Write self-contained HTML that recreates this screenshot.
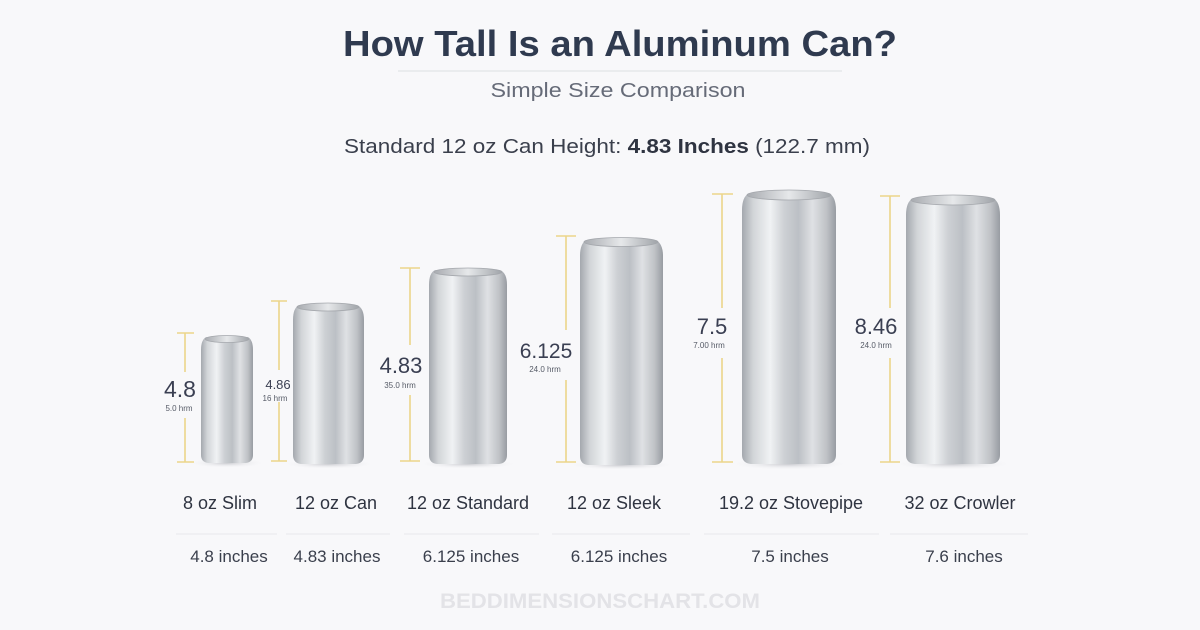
<!DOCTYPE html>
<html><head><meta charset="utf-8"><style>
html,body{margin:0;padding:0;background:#f8f8fa;}
svg{display:block;font-family:"Liberation Sans",sans-serif;}
</style></head><body>
<svg width="1200" height="630" viewBox="0 0 1200 630" xmlns="http://www.w3.org/2000/svg">
<defs>
<linearGradient id="body" x1="0" x2="1" y1="0" y2="0">
<stop offset="0" stop-color="#a4a8ae"/>
<stop offset="0.12" stop-color="#d2d5d8"/>
<stop offset="0.3" stop-color="#f0f2f4"/>
<stop offset="0.45" stop-color="#cdd0d4"/>
<stop offset="0.6" stop-color="#bcc0c5"/>
<stop offset="0.75" stop-color="#dfe1e4"/>
<stop offset="0.9" stop-color="#bfc2c6"/>
<stop offset="1" stop-color="#989ca2"/>
</linearGradient>
<linearGradient id="top" x1="0" x2="1">
<stop offset="0" stop-color="#a8abb0"/><stop offset="0.5" stop-color="#e6e8ea"/><stop offset="1" stop-color="#a0a4a9"/>
</linearGradient>
<radialGradient id="shadow" cx="0.5" cy="0.5" r="0.5"><stop offset="0" stop-color="#c9cacf"/><stop offset="1" stop-color="#f8f8fa" stop-opacity="0"/></radialGradient>
</defs>
<rect width="1200" height="630" fill="#f8f8fa"/>

<text x="620" y="56" text-anchor="middle" font-size="36" font-weight="bold" fill="#2f3a4f" textLength="554" lengthAdjust="spacingAndGlyphs">How Tall Is an Aluminum Can?</text>
<line x1="398" y1="71" x2="842" y2="71" stroke="#e6e7ea" stroke-width="1.5"/>
<text x="618" y="97" text-anchor="middle" font-size="20" fill="#666b78" textLength="255" lengthAdjust="spacingAndGlyphs">Simple Size Comparison</text>
<text x="344" y="153" font-size="20" fill="#3a3f4c" textLength="526" lengthAdjust="spacingAndGlyphs">Standard 12 oz Can Height: <tspan font-weight="bold" fill="#2f3441">4.83 Inches</tspan> (122.7 mm)</text>

<g id="cans">
<ellipse cx="227" cy="463" rx="38" ry="5" fill="url(#shadow)"/>
<path d="M201 350 Q201 340 206 337 L248 337 Q253 340 253 350 L253 455 Q253 462 246 463 L208 463 Q201 462 201 455Z" fill="url(#body)"/>
<ellipse cx="227" cy="339" rx="22" ry="3.5" fill="url(#top)" stroke="#a4a7ac" stroke-width="0.8"/>
<ellipse cx="329" cy="464" rx="46" ry="5" fill="url(#shadow)"/>
<path d="M293 320 Q293 308 299 305 L357 305 Q364 308 364 320 L364 455 Q364 463 356 464 L301 464 Q293 463 293 455Z" fill="url(#body)"/>
<ellipse cx="328" cy="307" rx="31" ry="4" fill="url(#top)" stroke="#a4a7ac" stroke-width="0.8"/>
<ellipse cx="468" cy="464" rx="50" ry="5" fill="url(#shadow)"/>
<path d="M429 285 Q429 273 435 270 L500 270 Q507 273 507 285 L507 455 Q507 463 499 464 L437 464 Q429 463 429 455Z" fill="url(#body)"/>
<ellipse cx="468" cy="272" rx="34" ry="4" fill="url(#top)" stroke="#a4a7ac" stroke-width="0.8"/>
<ellipse cx="621" cy="465" rx="54" ry="5" fill="url(#shadow)"/>
<path d="M580 256 Q580 244 586 240 L656 240 Q663 244 663 256 L663 456 Q663 464 655 465 L588 465 Q580 464 580 456Z" fill="url(#body)"/>
<ellipse cx="621" cy="242" rx="37" ry="4.5" fill="url(#top)" stroke="#a4a7ac" stroke-width="0.8"/>
<ellipse cx="789" cy="464" rx="60" ry="6" fill="url(#shadow)"/>
<path d="M742 210 Q742 197 749 193 L829 193 Q836 197 836 210 L836 455 Q836 463 827 464 L751 464 Q742 463 742 455Z" fill="url(#body)"/>
<ellipse cx="789" cy="195" rx="42" ry="5" fill="url(#top)" stroke="#a4a7ac" stroke-width="0.8"/>
<ellipse cx="953" cy="464" rx="60" ry="6" fill="url(#shadow)"/>
<path d="M906 215 Q906 202 913 198 L993 198 Q1000 202 1000 215 L1000 455 Q1000 463 991 464 L915 464 Q906 463 906 455Z" fill="url(#body)"/>
<ellipse cx="953" cy="200" rx="42" ry="5" fill="url(#top)" stroke="#a4a7ac" stroke-width="0.8"/>
</g>

<g stroke="#ecd58a" stroke-width="1.6" fill="none">
<path d="M177 333H194M185 333V372M185 418V462M177 462H194"/>
<path d="M271 301H287M279 301V370M279 402V461M271 461H287"/>
<path d="M400 268H420M410 268V345M410 395V461M400 461H420"/>
<path d="M556 236H576M566 236V330M566 380V462M556 462H576"/>
<path d="M712 194H733M722 194V308M722 358V462M712 462H733"/>
<path d="M880 196H900M890 196V308M890 358V462M880 462H900"/>
</g>
<g fill="#3a3f52" text-anchor="middle">
<text x="180" y="397" font-size="23">4.8</text>
<text x="179" y="411" font-size="8" fill="#555a66">5.0 hrm</text>
<text x="278" y="389" font-size="13">4.86</text>
<text x="275" y="401" font-size="8" fill="#555a66">16 hrm</text>
<text x="401" y="373" font-size="22">4.83</text>
<text x="400" y="388" font-size="8" fill="#555a66">35.0 hrm</text>
<text x="546" y="358" font-size="21">6.125</text>
<text x="545" y="372" font-size="8" fill="#555a66">24.0 hrm</text>
<text x="712" y="334" font-size="22">7.5</text>
<text x="709" y="348" font-size="8" fill="#555a66">7.00 hrm</text>
<text x="876" y="334" font-size="22">8.46</text>
<text x="876" y="348" font-size="8" fill="#555a66">24.0 hrm</text>
</g>

<g font-size="18" fill="#2f3441" text-anchor="middle">
<text x="220" y="509">8 oz Slim</text>
<text x="336" y="509">12 oz Can</text>
<text x="468" y="509">12 oz Standard</text>
<text x="614" y="509">12 oz Sleek</text>
<text x="791" y="509">19.2 oz Stovepipe</text>
<text x="960" y="509">32 oz Crowler</text>
</g>
<g stroke="#ececef" stroke-width="1.2">
<line x1="176" y1="534" x2="277" y2="534"/><line x1="286" y1="534" x2="390" y2="534"/>
<line x1="404" y1="534" x2="539" y2="534"/><line x1="552" y1="534" x2="690" y2="534"/>
<line x1="704" y1="534" x2="879" y2="534"/><line x1="890" y1="534" x2="1028" y2="534"/>
</g>
<g font-size="17" fill="#3a3f4c" text-anchor="middle">
<text x="229" y="562">4.8 inches</text>
<text x="337" y="562">4.83 inches</text>
<text x="471" y="562">6.125 inches</text>
<text x="619" y="562">6.125 inches</text>
<text x="790" y="562">7.5 inches</text>
<text x="964" y="562">7.6 inches</text>
</g>
<text x="600" y="608" text-anchor="middle" font-size="21" font-weight="bold" fill="#e3e3e7" textLength="320" lengthAdjust="spacingAndGlyphs">BEDDIMENSIONSCHART.COM</text>
</svg>
</body></html>
